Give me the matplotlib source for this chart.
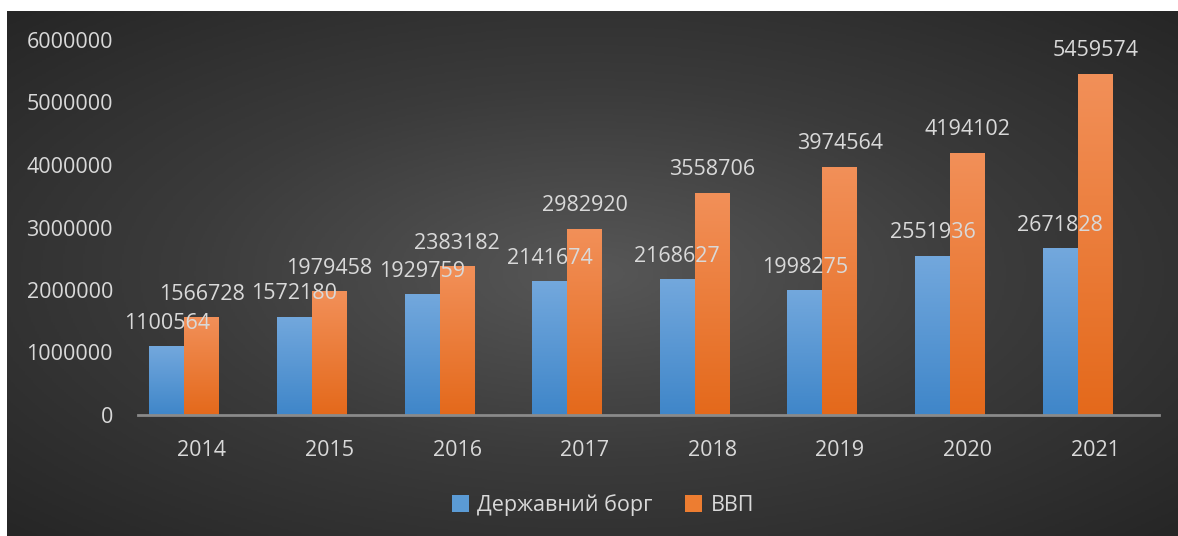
import numpy as np
import matplotlib.pyplot as plt
from matplotlib.colors import LinearSegmentedColormap

plt.rcParams['font.family'] = ['Open Sans', 'DejaVu Sans']

years = ['2014', '2015', '2016', '2017', '2018', '2019', '2020', '2021']
debt = [1100564, 1572180, 1929759, 2141674, 2168627, 1998275, 2551936, 2671828]
gdp = [1566728, 1979458, 2383182, 2982920, 3558706, 3974564, 4194102, 5459574]
series_names = ['Державний борг', 'ВВП']

txt = '#d9d9d9'

fig = plt.figure(figsize=(11.78, 5.36), dpi=100)
fig.patch.set_facecolor('white')

# dark panel with radial gradient
bg = fig.add_axes([7/1178, 0, 1 - 7/1178, 1 - 11/536], zorder=-10)
yy, xx = np.mgrid[-1:1:300j, -1:1:600j]
rr = np.sqrt(xx**2 + yy**2) / np.sqrt(2)
bgmap = LinearSegmentedColormap.from_list('bg', ['#575757', '#3b3b3b', '#262626'])
bg.imshow(rr, cmap=bgmap, aspect='auto', extent=[0, 1, 0, 1], vmin=0, vmax=1)
bg.axis('off')

ax = fig.add_axes([138/1178, 121/536, 1021/1178, 375/536])
ax.patch.set_alpha(0)

x = np.arange(len(years))
w = 0.274
b1 = ax.bar(x - w, debt, w, color='#5b9bd5', label=series_names[0], zorder=3)
b2 = ax.bar(x, gdp, w, color='#ed7d31', label=series_names[1], zorder=3)

# vertical gradients clipped to bars
blue = LinearSegmentedColormap.from_list('b', ['#3f86c9', '#73a8dd'])
orng = LinearSegmentedColormap.from_list('o', ['#e4691b', '#f29059'])
grad = np.linspace(0, 1, 256).reshape(-1, 1)
for bars, cm in ((b1, blue), (b2, orng)):
    for p in bars:
        x0, y0 = p.get_x(), p.get_y()
        im = ax.imshow(grad, cmap=cm, origin='lower', aspect='auto',
                       extent=[x0, x0 + p.get_width(), y0, y0 + p.get_height()], zorder=4)
        im.set_clip_path(p)

for bars, vals in ((b1, debt), (b2, gdp)):
    for p, v in zip(bars, vals):
        ax.annotate(str(v), (p.get_x() + p.get_width() / 2, v), xytext=(0, 9),
                    textcoords='offset points', ha='center', va='bottom',
                    color=txt, fontsize=15.5, zorder=6)

ax.set_xlim(-0.5, 7.5)
ax.set_ylim(0, 6000000)
ax.set_yticks(range(0, 6000001, 1000000))
ax.set_yticklabels([str(v) for v in range(0, 6000001, 1000000)])
ax.set_xticks(x)
ax.set_xticklabels(years)
ax.tick_params(length=0, colors=txt, labelsize=15.5)
ax.tick_params(axis='x', pad=18)
ax.tick_params(axis='y', pad=18)
for s in ['top', 'right', 'left']:
    ax.spines[s].set_visible(False)
ax.spines['bottom'].set_color('#8a8a8a')
ax.spines['bottom'].set_linewidth(2)
ax.spines['bottom'].set_zorder(5)

leg = fig.legend(handles=[b1, b2], labels=series_names, loc='center',
                 bbox_to_anchor=(603/1178, 1 - 505/536), ncol=2, frameon=False,
                 fontsize=15.5, handlelength=0.8, handleheight=0.8, handletextpad=0.4,
                 columnspacing=1.5)
for t in leg.get_texts():
    t.set_color(txt)

fig.savefig('out.png', dpi=100)
